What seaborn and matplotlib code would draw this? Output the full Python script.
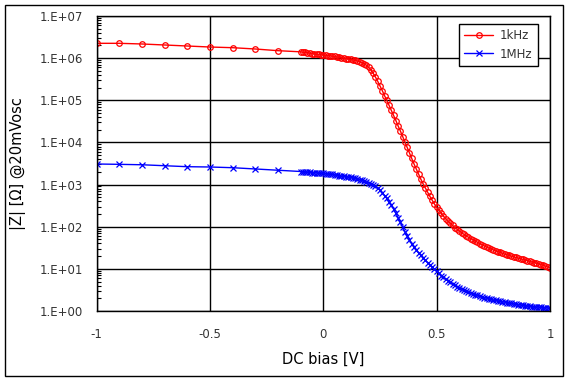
import numpy as np
import pandas as pd
import matplotlib
matplotlib.use("Agg")
import matplotlib.pyplot as plt
from matplotlib.patches import Rectangle
from matplotlib.ticker import FixedLocator, FuncFormatter, LogLocator, NullFormatter
import seaborn as sns

# DC bias sweep [V]: coarse part, then fine part
bias_coarse = [-1.0, -0.9, -0.8, -0.7, -0.6, -0.5, -0.4, -0.3, -0.2, -0.1]
bias_fine = [round(-0.09 + 0.01 * i, 2) for i in range(110)]

# log10 |Z|
logz_1khz_coarse = [6.352, 6.352, 6.336, 6.312, 6.288, 6.264, 6.248, 6.217, 6.177, 6.15]
logz_1khz_fine = [
    6.14, 6.135, 6.13, 6.12, 6.11, 6.10, 6.095, 6.09, 6.08,            # -0.09..-0.01
    6.075, 6.07, 6.06, 6.055, 6.05, 6.04, 6.03, 6.02, 6.01, 6.00,      # 0.00..0.09
    5.99, 5.98, 5.97, 5.96, 5.95, 5.935, 5.915, 5.89, 5.865, 5.83,     # 0.10..0.19
    5.78, 5.72, 5.64, 5.55, 5.45, 5.34, 5.23, 5.11, 5.00, 4.88,        # 0.20..0.29
    4.76, 4.64, 4.52, 4.39, 4.27, 4.14, 4.01, 3.88, 3.75, 3.62,        # 0.30..0.39
    3.49, 3.37, 3.25, 3.13, 3.02, 2.92, 2.82, 2.72, 2.63, 2.54,        # 0.40..0.49
    2.46, 2.39, 2.32, 2.25, 2.19, 2.13, 2.08, 2.03, 1.98, 1.94,        # 0.50..0.59
    1.90, 1.86, 1.82, 1.78, 1.75, 1.72, 1.69, 1.66, 1.63, 1.60,        # 0.60..0.69
    1.57, 1.545, 1.52, 1.495, 1.47, 1.45, 1.43, 1.41, 1.39, 1.37,      # 0.70..0.79
    1.35, 1.335, 1.32, 1.30, 1.285, 1.27, 1.255, 1.24, 1.225, 1.21,    # 0.80..0.89
    1.195, 1.18, 1.165, 1.15, 1.135, 1.12, 1.10, 1.085, 1.065, 1.045,  # 0.90..0.99
    1.02,                                                              # 1.00
]

logz_1mhz_coarse = [3.488, 3.48, 3.47, 3.447, 3.424, 3.417, 3.40, 3.37, 3.34, 3.31]
logz_1mhz_fine = [
    3.305, 3.30, 3.295, 3.29, 3.285, 3.28, 3.277, 3.273, 3.27,         # -0.09..-0.01
    3.267, 3.26, 3.255, 3.25, 3.24, 3.23, 3.22, 3.21, 3.20, 3.195,     # 0.00..0.09
    3.19, 3.18, 3.17, 3.16, 3.15, 3.14, 3.12, 3.10, 3.08, 3.06,        # 0.10..0.19
    3.04, 3.02, 2.99, 2.96, 2.92, 2.87, 2.81, 2.74, 2.67, 2.59,        # 0.20..0.29
    2.51, 2.42, 2.32, 2.21, 2.10, 1.99, 1.88, 1.78, 1.69, 1.60,        # 0.30..0.39
    1.52, 1.45, 1.38, 1.32, 1.26, 1.20, 1.15, 1.10, 1.05, 0.99,        # 0.40..0.49
    0.94, 0.89, 0.84, 0.80, 0.76, 0.72, 0.68, 0.645, 0.61, 0.58,       # 0.50..0.59
    0.55, 0.52, 0.495, 0.47, 0.45, 0.43, 0.41, 0.39, 0.37, 0.35,       # 0.60..0.69
    0.335, 0.32, 0.305, 0.29, 0.275, 0.26, 0.25, 0.24, 0.23, 0.22,     # 0.70..0.79
    0.21, 0.20, 0.19, 0.18, 0.17, 0.16, 0.15, 0.14, 0.135, 0.13,       # 0.80..0.89
    0.12, 0.11, 0.105, 0.10, 0.095, 0.09, 0.085, 0.08, 0.075, 0.07,    # 0.90..0.99
    0.065,                                                             # 1.00
]

bias = bias_coarse + bias_fine
df = pd.DataFrame({
    "bias": bias + bias,
    "Z": np.concatenate([10 ** np.array(logz_1khz_coarse + logz_1khz_fine),
                         10 ** np.array(logz_1mhz_coarse + logz_1mhz_fine)]),
    "freq": ["1kHz"] * len(bias) + ["1MHz"] * len(bias),
})

sns.set_theme(style="white")
plt.rcParams['font.family'] = ['DejaVu Sans']

fig = plt.figure(figsize=(5.7, 3.82), dpi=100)
ax = fig.add_axes([0.1696, 0.1859, 0.7953, 0.7722])

sub = df[df.freq == "1kHz"]
sns.lineplot(x=sub.bias, y=sub.Z, ax=ax, color='red', linewidth=1, marker='o',
             markersize=4, markerfacecolor='none', markeredgecolor='red',
             markeredgewidth=0.9, label='1kHz', estimator=None, sort=False)
sub = df[df.freq == "1MHz"]
sns.lineplot(x=sub.bias, y=sub.Z, ax=ax, color='#0000ff', linewidth=1, marker='x',
             markersize=4, markeredgecolor='#0000ff', markeredgewidth=0.9,
             label='1MHz', estimator=None, sort=False)

ax.set_yscale('log')
ax.set_xlim(-1, 1)
ax.set_ylim(1, 1e7)
ax.xaxis.set_major_locator(FixedLocator([-1, -0.5, 0, 0.5, 1]))
ax.xaxis.set_major_formatter(FuncFormatter(lambda v, p: f"{v:g}"))
ax.yaxis.set_major_locator(FixedLocator([10.0 ** k for k in range(8)]))
ax.yaxis.set_major_formatter(FuncFormatter(lambda v, p: f"1.E+{int(round(np.log10(v))):02d}"))
ax.yaxis.set_minor_locator(LogLocator(base=10, subs=np.arange(2, 10), numticks=20))
ax.yaxis.set_minor_formatter(NullFormatter())

ax.grid(True, which='major', color='black', linewidth=1)
ax.tick_params(axis='both', which='major', length=0, labelsize=8.5, labelcolor='#333333')
ax.tick_params(axis='y', which='major', pad=10)
ax.tick_params(axis='x', which='major', pad=12)
ax.tick_params(axis='y', which='minor', direction='in', length=3, width=0.8,
               color='black', left=True)
for s in ax.spines.values():
    s.set_color('black')
    s.set_linewidth(1)

ax.set_xlabel("DC bias [V]", fontsize=10.5, color='black', labelpad=8)
ax.set_ylabel("|Z| [Ω] @20mVosc", fontsize=10.5, color='black', labelpad=10)

leg = ax.legend(loc='upper right', bbox_to_anchor=(0.973, 0.973), borderaxespad=0,
                fontsize=8.5, fancybox=False, framealpha=1, edgecolor='black',
                handlelength=2.4, handletextpad=0.6, labelspacing=0.45, borderpad=0.45)
leg.get_frame().set_linewidth(1)
for t in leg.get_texts():
    t.set_color('#333333')

# outer chart border
fig.patches.append(Rectangle((5 / 570, 6 / 382), 558 / 570, 371 / 382,
                             transform=fig.transFigure, fill=False,
                             edgecolor='black', linewidth=1))

fig.savefig("out.png", dpi=100, facecolor='white')
